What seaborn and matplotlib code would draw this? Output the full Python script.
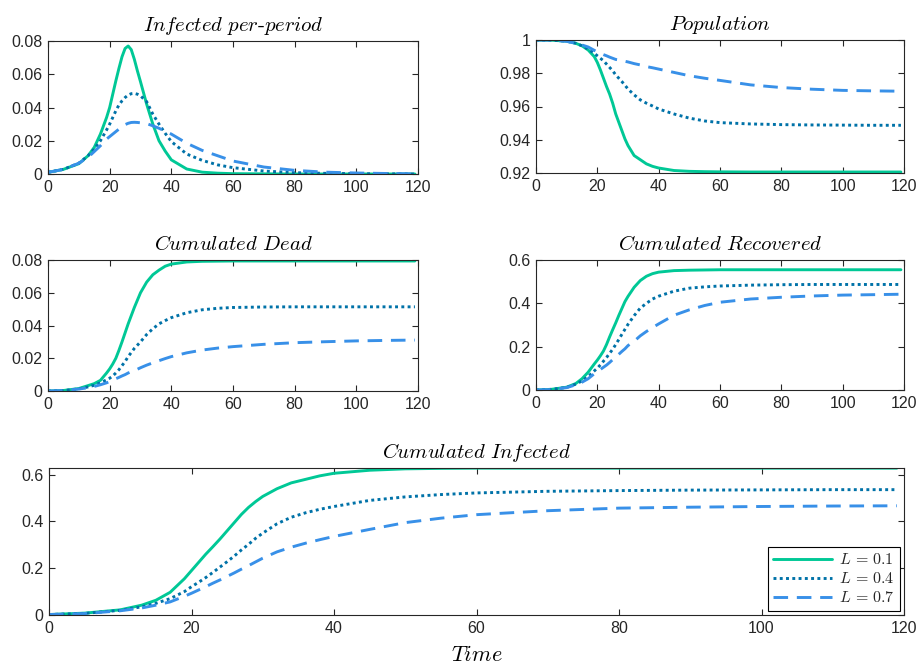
import numpy as np
import pandas as pd
import matplotlib
matplotlib.use("Agg")
import matplotlib.pyplot as plt
import seaborn as sns
from matplotlib.ticker import FuncFormatter

# ---------------- data ----------------
time = [0, 5, 10, 13, 15, 17, 19, 20, 21, 22, 23, 24, 25, 26, 27, 28, 29, 30,
        32, 34, 36, 38, 40, 45, 50, 55, 60, 70, 80, 90, 100, 110, 119]

legend_labels = [r"$L\,=\,0.1$", r"$L\,=\,0.4$", r"$L\,=\,0.7$"]

inf_L1 = [0.001, 0.0028, 0.0062, 0.011, 0.016, 0.024, 0.034, 0.040, 0.048, 0.056, 0.0635,
          0.0705, 0.0755, 0.0770, 0.0748, 0.069, 0.062, 0.0555, 0.042, 0.030, 0.020, 0.0138,
          0.0085, 0.003, 0.0011, 0.0005, 0.0002, 0.0001, 0.0, 0.0, 0.0, 0.0, 0.0]
inf_L4 = [0.001, 0.0028, 0.0065, 0.011, 0.015, 0.020, 0.0265, 0.030, 0.034, 0.038, 0.0415,
          0.044, 0.046, 0.0475, 0.0483, 0.0485, 0.048, 0.047, 0.0435, 0.036, 0.030, 0.0245,
          0.0195, 0.012, 0.0082, 0.0055, 0.0038, 0.0018, 0.0008, 0.0004, 0.0002, 0.0001, 0.0]
inf_L7 = [0.001, 0.0028, 0.0065, 0.010, 0.0135, 0.017, 0.021, 0.0225, 0.024, 0.0255, 0.027,
          0.0285, 0.0297, 0.0305, 0.031, 0.0311, 0.031, 0.0308, 0.0303, 0.029, 0.0275, 0.0258,
          0.024, 0.0185, 0.0142, 0.011, 0.0078, 0.0042, 0.0022, 0.0011, 0.0006, 0.0003, 0.0001]

pop_L1 = [1.0, 0.9999, 0.9993, 0.998, 0.9965, 0.994, 0.990, 0.9865, 0.982, 0.977, 0.972,
          0.9675, 0.962, 0.9555, 0.9505, 0.9455, 0.9405, 0.9365, 0.9305, 0.928, 0.9255, 0.9240,
          0.923, 0.9215, 0.921, 0.9208, 0.9207, 0.9206, 0.9206, 0.9206, 0.9206, 0.9206, 0.9206]
pop_L4 = [1.0, 0.9999, 0.9993, 0.998, 0.9965, 0.9945, 0.992, 0.9905, 0.989, 0.9875, 0.9855,
          0.9835, 0.9815, 0.979, 0.977, 0.975, 0.9728, 0.9705, 0.967, 0.964, 0.962, 0.9603,
          0.9585, 0.9555, 0.953, 0.9513, 0.9503, 0.9495, 0.9491, 0.9489, 0.9488, 0.9487, 0.9487]
pop_L7 = [1.0, 0.9999, 0.9992, 0.998, 0.997, 0.9958, 0.9938, 0.9928, 0.992, 0.9912, 0.9905,
          0.9897, 0.989, 0.9883, 0.988, 0.9876, 0.9872, 0.9868, 0.9858, 0.985, 0.984, 0.9833,
          0.9825, 0.9805, 0.9785, 0.977, 0.9757, 0.973, 0.9714, 0.9704, 0.9697, 0.9694, 0.9692]

dead_L1 = [0.0, 0.0003, 0.0015, 0.0033, 0.0045, 0.0065, 0.011, 0.0135, 0.0165, 0.020, 0.0248,
           0.030, 0.0355, 0.041, 0.046, 0.051, 0.0555, 0.060, 0.0665, 0.071, 0.0738, 0.0762,
           0.0775, 0.0788, 0.0792, 0.0793, 0.0794, 0.0794, 0.0794, 0.0794, 0.0794, 0.0794, 0.0794]
dead_L4 = [0.0, 0.0003, 0.0013, 0.0025, 0.0035, 0.005, 0.0068, 0.0078, 0.0092, 0.011, 0.013,
           0.0155, 0.018, 0.021, 0.0235, 0.026, 0.028, 0.030, 0.0345, 0.038, 0.041, 0.043,
           0.0448, 0.0478, 0.0496, 0.0505, 0.0510, 0.0513, 0.0514, 0.0514, 0.0514, 0.0514, 0.0514]
dead_L7 = [0.0, 0.0003, 0.0012, 0.002, 0.0028, 0.0038, 0.005, 0.0058, 0.0066, 0.0075, 0.0083,
           0.0092, 0.010, 0.011, 0.0118, 0.0125, 0.0133, 0.0142, 0.0158, 0.0172, 0.0185, 0.0198,
           0.021, 0.0233, 0.025, 0.0262, 0.0271, 0.0285, 0.0295, 0.0301, 0.0306, 0.0309, 0.0311]

rec_L1 = [0.0, 0.003, 0.013, 0.03, 0.052, 0.082, 0.12, 0.138, 0.158, 0.18, 0.21, 0.245, 0.278,
          0.31, 0.344, 0.376, 0.408, 0.432, 0.474, 0.505, 0.525, 0.537, 0.544, 0.551, 0.553,
          0.554, 0.555, 0.555, 0.555, 0.555, 0.555, 0.555, 0.555]
rec_L4 = [0.0, 0.003, 0.012, 0.027, 0.042, 0.062, 0.088, 0.101, 0.116, 0.133, 0.15, 0.169, 0.188,
          0.21, 0.233, 0.257, 0.28, 0.303, 0.343, 0.378, 0.40, 0.42, 0.433, 0.456, 0.47, 0.476,
          0.48, 0.484, 0.486, 0.487, 0.487, 0.487, 0.487]
rec_L7 = [0.0, 0.002, 0.011, 0.024, 0.036, 0.052, 0.075, 0.085, 0.095, 0.105, 0.115, 0.127, 0.14,
          0.152, 0.165, 0.178, 0.19, 0.205, 0.225, 0.25, 0.27, 0.288, 0.305, 0.345, 0.37, 0.39,
          0.405, 0.42, 0.428, 0.434, 0.438, 0.44, 0.442]

cum_L1 = [0.002, 0.008, 0.022, 0.042, 0.063, 0.097, 0.155, 0.19, 0.225, 0.26, 0.292, 0.325, 0.36,
          0.395, 0.43, 0.46, 0.485, 0.507, 0.54, 0.565, 0.58, 0.595, 0.606, 0.619, 0.625, 0.627,
          0.628, 0.628, 0.628, 0.628, 0.628, 0.628, 0.628]
cum_L4 = [0.002, 0.007, 0.02, 0.035, 0.05, 0.07, 0.10, 0.121, 0.14, 0.16, 0.182, 0.205, 0.228,
          0.252, 0.278, 0.302, 0.328, 0.35, 0.39, 0.418, 0.437, 0.452, 0.464, 0.49, 0.505, 0.515,
          0.522, 0.529, 0.532, 0.534, 0.535, 0.536, 0.536]
cum_L7 = [0.002, 0.006, 0.018, 0.03, 0.042, 0.056, 0.08, 0.093, 0.107, 0.121, 0.136, 0.15, 0.165,
          0.18, 0.196, 0.211, 0.227, 0.243, 0.27, 0.29, 0.307, 0.322, 0.336, 0.366, 0.395, 0.414,
          0.429, 0.446, 0.457, 0.461, 0.464, 0.466, 0.467]

# ---------------- style ----------------
sns.set_theme(style="ticks")
plt.rcParams["font.family"] = ["Liberation Sans", "DejaVu Sans"]
plt.rcParams["mathtext.fontset"] = "cm"
plt.rcParams["axes.unicode_minus"] = False

colors = ["#00C896", "#0072A8", "#3890E8"]
styles = ["-", (0, (1.0, 1.15)), (0, (5.0, 3.0))]
axis_col = "#262626"

fig = plt.figure(figsize=(9.22, 6.65), dpi=100)

def px_axes(x0, y0, x1, y1):
    W, H = 922.0, 665.0
    return fig.add_axes([x0 / W, 1 - y1 / H, (x1 - x0) / W, (y1 - y0) / H])

def draw(ax, series, title, ylim, yticks):
    for vals, col, ls, lab in zip(series, colors, styles, legend_labels):
        sns.lineplot(x=time, y=vals, ax=ax, color=col, linestyle=ls, linewidth=2.1,
                     label=lab, legend=False)
    ax.set_xlim(0, 120)
    ax.set_xticks([0, 20, 40, 60, 80, 100, 120])
    ax.set_ylim(*ylim)
    ax.set_yticks(yticks)
    ax.yaxis.set_major_formatter(FuncFormatter(lambda v, p: ("%g" % round(v, 4))))
    ax.set_xlabel("")
    ax.set_ylabel("")
    ax.set_title(title, fontsize=15, color="black", pad=7)
    for s in ax.spines.values():
        s.set_visible(True)
        s.set_color(axis_col)
        s.set_linewidth(0.8)
    ax.tick_params(axis="both", direction="in", length=4.5, width=0.8, colors=axis_col,
                   labelsize=11.5, labelcolor=axis_col, top=True, right=True, pad=4)

ax1 = px_axes(48, 41, 418, 174)
draw(ax1, [inf_L1, inf_L4, inf_L7], r"$Infected\ per\text{-}period$", (0, 0.08),
     [0, 0.02, 0.04, 0.06, 0.08])

ax2 = px_axes(536, 40, 904, 173)
draw(ax2, [pop_L1, pop_L4, pop_L7], r"$Population$", (0.92, 1.0),
     [0.92, 0.94, 0.96, 0.98, 1.0])

ax3 = px_axes(48, 260, 418, 391)
draw(ax3, [dead_L1, dead_L4, dead_L7], r"$Cumulated\ Dead$", (0, 0.08),
     [0, 0.02, 0.04, 0.06, 0.08])

ax4 = px_axes(536, 260, 904, 390)
draw(ax4, [rec_L1, rec_L4, rec_L7], r"$Cumulated\ Recovered$", (0, 0.6),
     [0, 0.2, 0.4, 0.6])

ax5 = px_axes(49, 468, 904, 615)
draw(ax5, [cum_L1, cum_L4, cum_L7], r"$Cumulated\ Infected$", (0, 0.6286),
     [0, 0.2, 0.4, 0.6])
ax5.set_xlabel(r"$Time$", fontsize=16, color="black", labelpad=7)

leg = ax5.legend(loc="lower right", frameon=True, fancybox=False, framealpha=1,
                 edgecolor="black", fontsize=11.5, handlelength=3.7, borderpad=0.35,
                 labelspacing=0.25, handletextpad=0.4, borderaxespad=0.25)
leg.get_frame().set_linewidth(0.8)

fig.savefig("out.png", dpi=100)
